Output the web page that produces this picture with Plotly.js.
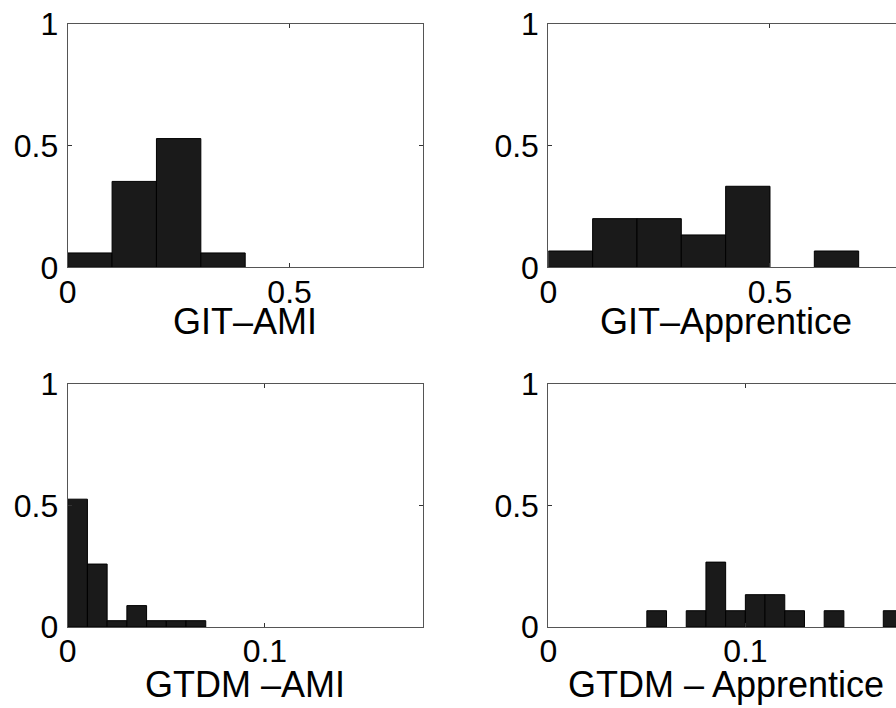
<!DOCTYPE html>
<html>
<head>
<meta charset="utf-8">
<script src="https://cdn.plot.ly/plotly-3.0.1.min.js"></script>
<style>
html, body { margin: 0; padding: 0; overflow: hidden; background: #fff; }
#chart { width: 906px; height: 708px; }
</style>
</head>
<body>
<div id="chart"></div>
<script>
// Bin left edges and normalized frequencies
const gitAmiEdges = [0, 0.1, 0.2, 0.3];
const gitAmiValues = [0.059, 0.353, 0.529, 0.059];

const gitAppEdges = [0, 0.1, 0.2, 0.3, 0.4, 0.6];
const gitAppValues = [0.067, 0.2, 0.2, 0.133, 0.333, 0.067];

const gtdmAmiEdges = [0, 0.01, 0.02, 0.03, 0.04, 0.05, 0.06];
const gtdmAmiValues = [0.526, 0.259, 0.026, 0.088, 0.026, 0.026, 0.026];

const gtdmAppEdges = [0.05, 0.07, 0.08, 0.09, 0.10, 0.11, 0.12, 0.14, 0.17];
const gtdmAppValues = [0.067, 0.067, 0.267, 0.067, 0.133, 0.133, 0.067, 0.067, 0.067];

const panelTitles = ['GIT\u2013AMI', 'GIT\u2013Apprentice', 'GTDM \u2013AMI', 'GTDM \u2013 Apprentice'];
const yTicks = [0, 0.5, 1];
const yTickText = ['0', '0.5', '1'];
const gitTicks = [0, 0.5];
const gitTickText = ['0', '0.5'];
const gtdmTicks = [0, 0.1];
const gtdmTickText = ['0', '0.1'];

const W = 906, H = 708;
const barStyle = { color: '#1a1a1a', line: { color: '#000', width: 1 } };

function bars(edges, values, width, xa, ya) {
  return {
    type: 'bar', x: edges, y: values, width: width, offset: 0,
    marker: barStyle, xaxis: xa, yaxis: ya, hoverinfo: 'skip', showlegend: false
  };
}

const data = [
  bars(gitAmiEdges, gitAmiValues, 0.1, 'x', 'y'),
  bars(gitAppEdges, gitAppValues, 0.1, 'x2', 'y2'),
  bars(gtdmAmiEdges, gtdmAmiValues, 0.01, 'x3', 'y3'),
  bars(gtdmAppEdges, gtdmAppValues, 0.01, 'x4', 'y4')
];

const font = { family: 'Liberation Sans, Arial, Helvetica, sans-serif', size: 32, color: '#000' };

function xAxis(domain, range, tv, tt, anchor) {
  return {
    domain: domain, range: range, tickvals: tv, ticktext: tt, anchor: anchor,
    showline: true, linecolor: '#555', linewidth: 1, mirror: 'ticks',
    ticks: 'inside', ticklen: 4, tickcolor: '#333', showgrid: false, zeroline: false,
    tickfont: font, ticklabelstandoff: -4, fixedrange: true
  };
}
function yAxis(domain, anchor) {
  return {
    domain: domain, range: [0, 1], tickvals: yTicks, ticktext: yTickText, anchor: anchor,
    showline: true, linecolor: '#555', linewidth: 1, mirror: 'ticks',
    ticks: 'inside', ticklen: 4, tickcolor: '#333', showgrid: false, zeroline: false,
    tickfont: font, ticklabelstandoff: 2, fixedrange: true
  };
}

const xL = [67.7 / W, 422.7 / W];
const xR = [548.3 / W, 903 / W];
const yT = [1 - 267.3 / H, 1 - 24 / H];
const yB = [1 - 627 / H, 1 - 384 / H];

const annFont = { family: 'Liberation Sans, Arial, Helvetica, sans-serif', size: 36, color: '#000' };
function title(text, xref, yref, y) {
  return { text: text, xref: xref, yref: yref, x: 0.5, y: y, xanchor: 'center', yanchor: 'middle',
           showarrow: false, font: annFont };
}

const layout = {
  width: W, height: H,
  margin: { l: 0, r: 0, t: 0, b: 0 },
  paper_bgcolor: '#fff', plot_bgcolor: '#fff',
  font: font,
  bargap: 0,
  xaxis: xAxis(xL, [0, 0.8], gitTicks, gitTickText, 'y'),
  yaxis: yAxis(yT, 'x'),
  xaxis2: xAxis(xR, [0, 0.8], gitTicks, gitTickText, 'y2'),
  yaxis2: yAxis(yT, 'x2'),
  xaxis3: xAxis(xL, [0, 0.18], gtdmTicks, gtdmTickText, 'y3'),
  yaxis3: yAxis(yB, 'x3'),
  xaxis4: xAxis(xR, [0, 0.18], gtdmTicks, gtdmTickText, 'y4'),
  yaxis4: yAxis(yB, 'x4'),
  annotations: [
    title(panelTitles[0], 'x domain', 'y domain', -(321 - 267.3) / 243.3),
    title(panelTitles[1], 'x2 domain', 'y2 domain', -(321 - 267.3) / 243.3),
    title(panelTitles[2], 'x3 domain', 'y3 domain', -(684 - 627) / 243),
    title(panelTitles[3], 'x4 domain', 'y4 domain', -(684 - 627) / 243)
  ]
};

Plotly.newPlot('chart', data, layout, { displayModeBar: false, staticPlot: true });
</script>
</body>
</html>
